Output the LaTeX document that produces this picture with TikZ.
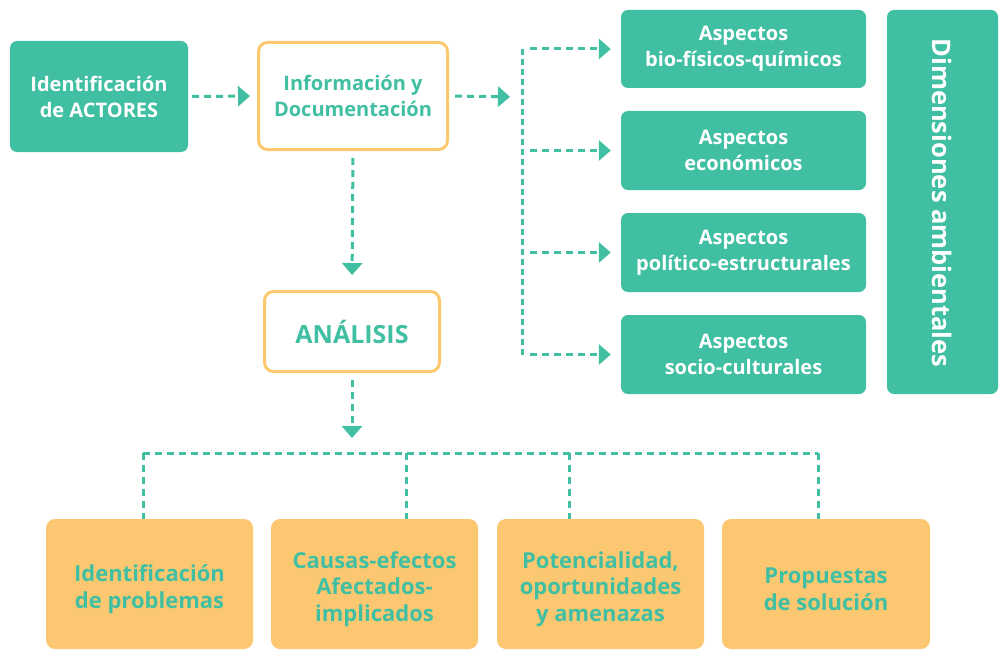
\documentclass[tikz,border=0pt]{standalone}
\usepackage{fontspec}
\setmainfont{Open Sans}
\usetikzlibrary{arrows.meta}
\definecolor{tealc}{HTML}{40BFA2}
\definecolor{orangec}{HTML}{FDC86E}
\definecolor{yelc}{HTML}{FBC871}
\begin{document}
\begin{tikzpicture}[x=1pt,y=-1pt,
  base/.style={rectangle, align=center, inner sep=0pt, font=\bfseries\fontsize{20}{26}\selectfont},
  tealbox/.style={base, fill=tealc, text=white, rounded corners=7pt},
  outbox/.style={base, draw=orangec, line width=3pt, fill=white, text=tealc, rounded corners=9pt},
  yelbox/.style={base, fill=yelc, rounded corners=9pt, minimum height=130pt},
  yeltext/.style={align=center, inner sep=0pt, text=tealc, font=\bfseries\fontsize{22}{26.5}\selectfont, yshift=-5pt},
  conn/.style={draw=tealc, line width=3pt, dash pattern=on 7pt off 5pt},
  tip/.style={-{Triangle[length=12pt,width=20pt]}}]
\useasboundingbox (0,0) rectangle (1000,650);
% top row
\node[tealbox, minimum width=178pt, minimum height=111pt] (A) at (99,96.5) {Identificación\\de ACTORES};
\node[outbox, minimum width=189pt, minimum height=107pt] (B) at (353,96) {Información y\\Documentación};
\node[outbox, minimum width=175pt, minimum height=80pt, font=\bfseries\fontsize{25}{30}\selectfont] (AN) at (352,331.5) {ANÁLISIS};
% right column
\node[tealbox, minimum width=245pt, minimum height=78pt] (R1) at (743.5,49) {Aspectos\\bio-físicos-químicos};
\node[tealbox, minimum width=245pt, minimum height=79pt] (R2) at (743.5,150.5) {Aspectos\\económicos};
\node[tealbox, minimum width=245pt, minimum height=79pt] (R3) at (743.5,252.5) {Aspectos\\político-estructurales};
\node[tealbox, minimum width=245pt, minimum height=79pt] (R4) at (743.5,354.5) {Aspectos\\socio-culturales};
\node[tealbox, minimum width=111pt, minimum height=384pt] (D) at (942.5,202) {};
\node[text=white, font=\bfseries\fontsize{25.5}{30}\selectfont, rotate=-90, xshift=1pt] (DT) at (D.center) {Dimensiones ambientales};
% bottom row
\node[yelbox, minimum width=207pt] (P1) at (149.5,584) {};
\node[yelbox, minimum width=207pt] (P2) at (374.5,584) {};
\node[yelbox, minimum width=207pt] (P3) at (600.5,584) {};
\node[yelbox, minimum width=208pt] (P4) at (826,584) {};
\node[yeltext] (P1t) at (P1.center) {Identificación\\de problemas};
\node[yeltext] (P2t) at (P2.center) {Causas-efectos\\Afectados-\\implicados};
\node[yeltext] (P3t) at (P3.center) {Potencialidad,\\oportunidades\\y amenazas};
\node[yeltext] (P4t) at (P4.center) {Propuestas\\de solución};
% connectors top
\draw[conn, tip, shorten <=4pt, shorten >=7pt] (A.east) -- (B.west);
\coordinate (bus) at (522,97);
\draw[conn, tip, shorten <=6pt, shorten >=12pt] (B.east) -- (bus);
\draw[conn, dash pattern=on 6pt off 4pt] (bus |- R1.west) -- (bus |- R4.west);
\foreach \r in {R1,R2,R3,R4}
  \draw[conn, tip, shorten <=8pt, shorten >=10pt] (bus |- \r.west) -- (\r.west);
\draw[conn, tip, shorten <=7pt, shorten >=15pt] (B.south) -- (AN.north);
% bottom tree
\coordinate (hb) at (352,453);
\draw[conn, tip, shorten <=7pt, shorten >=15pt] (AN.south) -- (hb);
\coordinate (d1) at (143,453);
\coordinate (d2) at (406,453);
\coordinate (d3) at (569,453);
\coordinate (d4) at (818,453);
\draw[conn] (d1) -- (d4);
\draw[conn] (d1) -- (d1 |- P1.north);
\draw[conn] (d2) -- (d2 |- P2.north);
\draw[conn] (d3) -- (d3 |- P3.north);
\draw[conn] (d4) -- (d4 |- P4.north);
\end{tikzpicture}
\end{document}
